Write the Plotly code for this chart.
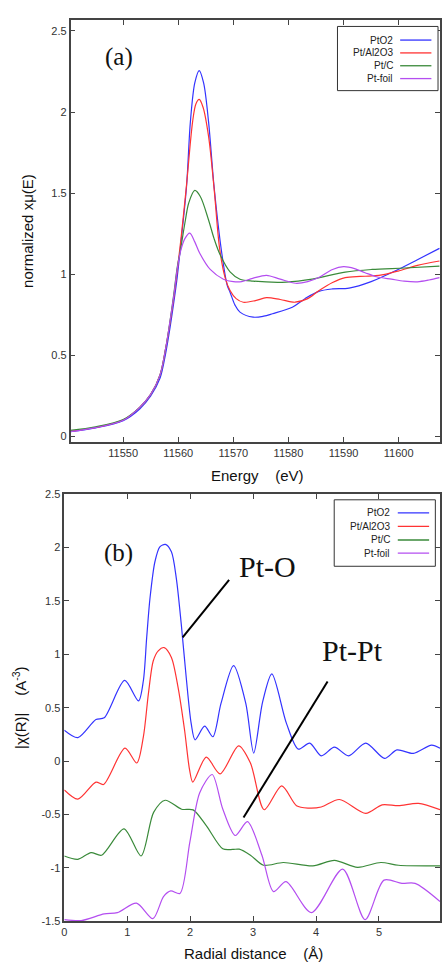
import plotly.graph_objects as go

# ---------------- data: panel (a) XANES ----------------
names = ["PtO2", "Pt/Al2O3", "Pt/C", "Pt-foil"]
colors = ["#3333ff", "#ff3333", "#3a8a3a", "#b44ef0"]

e_pto2 = [11540.4, 11545, 11550, 11553, 11555, 11556.7, 11557.7, 11558.5, 11559.2, 11559.8,
          11560.5, 11561.5, 11562.2, 11563.0, 11563.8, 11564.6, 11565.5, 11566.5, 11567.9,
          11568.9, 11569.4, 11570.3, 11571.2, 11573.6, 11575.5, 11577.1, 11580.7, 11583,
          11585.5, 11588, 11591, 11595, 11599.9, 11603.4, 11607.4]
v_pto2 = [0.030, 0.053, 0.098, 0.17, 0.25, 0.36, 0.51, 0.67, 0.83, 0.98,
          1.20, 1.54, 1.94, 2.18, 2.256, 2.18, 1.94, 1.54, 1.13,
          0.93, 0.89, 0.81, 0.767, 0.736, 0.742, 0.757, 0.797, 0.85,
          0.895, 0.91, 0.915, 0.955, 1.03, 1.09, 1.16]

e_al = [11540.4, 11545, 11550, 11553, 11555, 11556.7, 11557.7, 11558.5, 11559.2, 11559.8,
        11560.5, 11561.5, 11562.6, 11563.2, 11563.8, 11564.5, 11565.5, 11566.5, 11567.5,
        11568.5, 11569.4, 11570.5, 11571.8, 11574, 11576, 11578.5, 11581.2, 11583.5,
        11585.5, 11588, 11590.3, 11593, 11595.1, 11597.5, 11599.9, 11603.4, 11607.4]
v_al = [0.032, 0.056, 0.102, 0.18, 0.26, 0.38, 0.54, 0.70, 0.86, 1.02,
        1.22, 1.55, 1.94, 2.05, 2.078, 2.03, 1.85, 1.53, 1.16,
        0.98, 0.90, 0.85, 0.828, 0.838, 0.856, 0.845, 0.828, 0.85,
        0.899, 0.95, 0.98, 0.987, 0.99, 1.0, 1.02, 1.055, 1.082]

e_c = [11540.4, 11545, 11550, 11553, 11555, 11556.7, 11557.7, 11558.5, 11559.2, 11559.8,
       11560.4, 11561.3, 11561.9, 11563.0, 11564.0, 11565.5, 11566.5, 11567.6, 11569.4,
       11571.2, 11573.6, 11579.6, 11584.3, 11590.3, 11595.1, 11601.1, 11607.4]
v_c = [0.038, 0.060, 0.105, 0.18, 0.26, 0.38, 0.54, 0.71, 0.88, 1.04,
       1.15, 1.335, 1.44, 1.517, 1.48, 1.335, 1.22, 1.12, 1.015,
       0.97, 0.958, 0.952, 0.97, 1.014, 1.03, 1.039, 1.051]

e_foil = [11540.4, 11545, 11550, 11553, 11555, 11556.7, 11557.7, 11558.5, 11559.2, 11559.8,
          11560.4, 11561.2, 11562.1, 11563.0, 11563.9, 11565.8, 11568.2, 11570, 11571.5,
          11573.5, 11576, 11578.5, 11581.3, 11583.5, 11585.5, 11588, 11590, 11592,
          11593.9, 11596, 11598.7, 11601, 11603.4, 11605.5, 11607.4]
v_foil = [0.030, 0.055, 0.100, 0.18, 0.26, 0.38, 0.54, 0.71, 0.87, 1.03,
          1.14, 1.22, 1.254, 1.20, 1.13, 1.03, 0.97, 0.955, 0.955,
          0.975, 0.994, 0.97, 0.945, 0.955, 0.98, 1.03, 1.047, 1.035,
          1.01, 0.985, 0.97, 0.958, 0.954, 0.965, 0.98]

e_ticks = [11550, 11560, 11570, 11580, 11590, 11600]
mu_ticks = [0, 0.5, 1, 1.5, 2, 2.5]

# ---------------- data: panel (b) |chi(R)| ----------------
r_pto2 = [0.0, 0.216, 0.503, 0.634, 0.959, 1.179, 1.257, 1.309, 1.362, 1.44, 1.518, 1.607,
          1.702, 1.78, 1.859, 1.937, 2.016, 2.078, 2.23, 2.361, 2.49, 2.69, 2.884, 3.01,
          3.15, 3.298, 3.53, 3.717, 3.9, 4.083, 4.292, 4.517, 4.79, 5.09, 5.286, 5.548,
          5.836, 5.97]
c_pto2 = [0.29, 0.22, 0.39, 0.405, 0.755, 0.563, 0.755, 1.156, 1.527, 1.867, 2.006, 2.03,
          1.96, 1.712, 1.28, 0.785, 0.353, 0.199, 0.327, 0.228, 0.54, 0.894, 0.54, 0.075,
          0.55, 0.816, 0.353, 0.112, 0.168, 0.049, 0.13, 0.049, 0.168, 0.025, 0.105, 0.072,
          0.149, 0.12]

r_al = [0.0, 0.216, 0.503, 0.624, 0.964, 1.152, 1.257, 1.336, 1.414, 1.493, 1.587, 1.702,
        1.807, 1.911, 1.99, 2.042, 2.256, 2.476, 2.77, 2.958, 3.177, 3.455, 3.69, 3.874,
        4.083, 4.371, 4.79, 5.05, 5.31, 5.627, 5.97]
c_al = [-0.271, -0.357, -0.197, -0.219, 0.121, -0.018, 0.229, 0.63, 0.94, 1.033, 1.063, 0.971,
        0.693, 0.291, -0.08, -0.197, 0.037, -0.12, 0.143, -0.018, -0.456, -0.233, -0.418, -0.44,
        -0.43, -0.36, -0.49, -0.41, -0.418, -0.397, -0.456]

r_c = [0.0, 0.216, 0.425, 0.592, 0.948, 1.22, 1.419, 1.602, 1.864, 2.047, 2.256, 2.518,
       2.676, 2.78, 2.958, 3.167, 3.48, 3.95, 4.292, 4.66, 5.03, 5.31, 5.97]
c_c = [-0.889, -0.92, -0.857, -0.882, -0.635, -0.889, -0.481, -0.367, -0.451, -0.457, -0.605, -0.822,
       -0.828, -0.825, -0.882, -0.976, -0.95, -0.982, -0.93, -0.995, -0.95, -0.976, -0.982]

r_foil = [0.0, 0.268, 0.634, 0.843, 1.147, 1.408, 1.576, 1.691, 1.838, 1.995, 2.152, 2.35,
          2.518, 2.717, 2.91, 3.14, 3.324, 3.523, 3.926, 4.423, 4.78, 5.08, 5.365, 5.575, 5.97]
c_foil = [-1.485, -1.494, -1.432, -1.42, -1.331, -1.476, -1.27, -1.216, -1.24, -0.759, -0.296, -0.126,
          -0.449, -0.697, -0.568, -0.882, -1.223, -1.13, -1.42, -1.012, -1.485, -1.115, -1.145, -1.145, -1.315]

r_ticks = [0, 1, 2, 3, 4, 5]
chi_ticks = [-1.5, -1, -0.5, 0, 0.5, 1, 1.5, 2, 2.5]

xanes = [(e_pto2, v_pto2), (e_al, v_al), (e_c, v_c), (e_foil, v_foil)]
ft = [(r_pto2, c_pto2), (r_al, c_al), (r_c, c_c), (r_foil, c_foil)]

W, H = 442, 968
fig = go.Figure()

for (x, y), n, c in zip(xanes, names, colors):
    fig.add_trace(go.Scatter(x=x, y=y, mode="lines", name=n, showlegend=False,
                             line=dict(color=c, width=1.2, shape="spline", smoothing=0.9),
                             xaxis="x", yaxis="y"))
for (x, y), n, c in zip(ft, names, colors):
    fig.add_trace(go.Scatter(x=x, y=y, mode="lines", name=n, showlegend=False,
                             line=dict(color=c, width=1.2, shape="spline", smoothing=0.8),
                             xaxis="x2", yaxis="y2"))

def px(v):
    return v / W

def py(v):
    return 1 - v / H

def fmt(t):
    return ("%g" % t)

tickfont = dict(family="Liberation Sans, Arial, sans-serif", size=11, color="#333333")
axcommon = dict(showgrid=False, zeroline=False, showline=True, linecolor="#444444", linewidth=1.5,
                mirror="ticks", ticks="inside", ticklen=5, tickwidth=1, tickcolor="#444444",
                tickfont=tickfont, tickmode="array")

fig.update_layout(
    width=W, height=H, margin=dict(l=0, r=0, t=0, b=0),
    paper_bgcolor="white", plot_bgcolor="white",
    xaxis=dict(domain=[px(68.3), 1], range=[11540.45, 11607.5], anchor="y",
               tickvals=e_ticks, ticktext=[fmt(t) for t in e_ticks], **axcommon),
    yaxis=dict(domain=[py(441.7), py(14.3)], range=[-0.035, 2.567], anchor="x",
               tickvals=mu_ticks, ticktext=[fmt(t) for t in mu_ticks], **axcommon),
    xaxis2=dict(domain=[px(62), 1], range=[0, 5.97], anchor="y2",
                tickvals=r_ticks, ticktext=[fmt(t) for t in r_ticks], **axcommon),
    yaxis2=dict(domain=[py(926.7), py(494.3)], range=[-1.5, 2.5], anchor="x2",
                tickvals=chi_ticks, ticktext=[fmt(t) for t in chi_ticks], **axcommon),
)

titlefont = dict(family="Liberation Sans, Arial, sans-serif", size=15, color="#111111")
serif = dict(family="Liberation Serif, DejaVu Serif, serif", color="#111111")
ann = []
shapes = []

# axis titles
ann.append(dict(text="Energy    (eV)", x=px(257), y=py(475), xref="paper", yref="paper",
                showarrow=False, font=titlefont, xanchor="center", yanchor="middle"))
ann.append(dict(text="normalized xμ(E)", x=px(24), y=py(228), xref="paper", yref="paper",
                showarrow=False, font=titlefont, textangle=-90, xanchor="center", yanchor="middle"))
ann.append(dict(text="Radial distance    (Å)", x=px(253), y=py(959), xref="paper", yref="paper",
                showarrow=False, font=titlefont, xanchor="center", yanchor="middle"))
ann.append(dict(text="|χ(R)|    (A<sup>-3</sup>)", x=px(16), y=py(710), xref="paper", yref="paper",
                showarrow=False, font=titlefont, textangle=-90, xanchor="center", yanchor="middle"))

# panel labels
ann.append(dict(text="(a)", x=px(117), y=py(52), xref="paper", yref="paper", showarrow=False,
                font=dict(size=25, **serif), xanchor="center", yanchor="middle"))
ann.append(dict(text="(b)", x=px(117), y=py(554), xref="paper", yref="paper", showarrow=False,
                font=dict(size=25, **serif), xanchor="center", yanchor="middle"))
ann.append(dict(text="Pt-O", x=px(268), y=py(568), xref="paper", yref="paper", showarrow=False,
                font=dict(size=30, **serif), xanchor="center", yanchor="middle"))
ann.append(dict(text="Pt-Pt", x=px(353), y=py(653), xref="paper", yref="paper", showarrow=False,
                font=dict(size=30, **serif), xanchor="center", yanchor="middle"))

# pointer lines
shapes.append(dict(type="line", xref="paper", yref="paper", x0=px(228.7), y0=py(581),
                   x1=px(181.7), y1=py(639.3), line=dict(color="black", width=2)))
shapes.append(dict(type="line", xref="paper", yref="paper", x0=px(328.3), y0=py(684),
                   x1=px(243.3), y1=py(821.7), line=dict(color="black", width=2)))

# legends (gnuplot style: text right-aligned, sample on right)
legfont = dict(family="Liberation Sans, Arial, sans-serif", size=10, color="#222222")
def legend(box, rows, text_right, line_x):
    x0, y0, x1, y1 = box
    shapes.append(dict(type="rect", xref="paper", yref="paper", x0=px(x0), y0=py(y0),
                       x1=px(x1), y1=py(y1), line=dict(color="#333333", width=1),
                       fillcolor="white", layer="above"))
    for n, c, ry in zip(names, colors, rows):
        ann.append(dict(text=n, x=px(text_right), y=py(ry), xref="paper", yref="paper",
                        showarrow=False, font=legfont, xanchor="right", yanchor="middle"))
        shapes.append(dict(type="line", xref="paper", yref="paper", x0=px(line_x[0]), y0=py(ry),
                           x1=px(line_x[1]), y1=py(ry), line=dict(color=c, width=1.3)))

legend((338.3, 20.7, 440, 85.7), [34.5, 47.5, 60.5, 73.5], 396.5, (401.7, 433.3))
legend((335, 500, 437.3, 567.3), [513.3, 527, 540.7, 554], 393.5, (399.3, 431))

fig.update_layout(annotations=ann, shapes=shapes)
fig.write_html("out.html", config={"displayModeBar": False},
               post_script="document.body.style.margin='0';document.body.style.overflow='hidden';")
